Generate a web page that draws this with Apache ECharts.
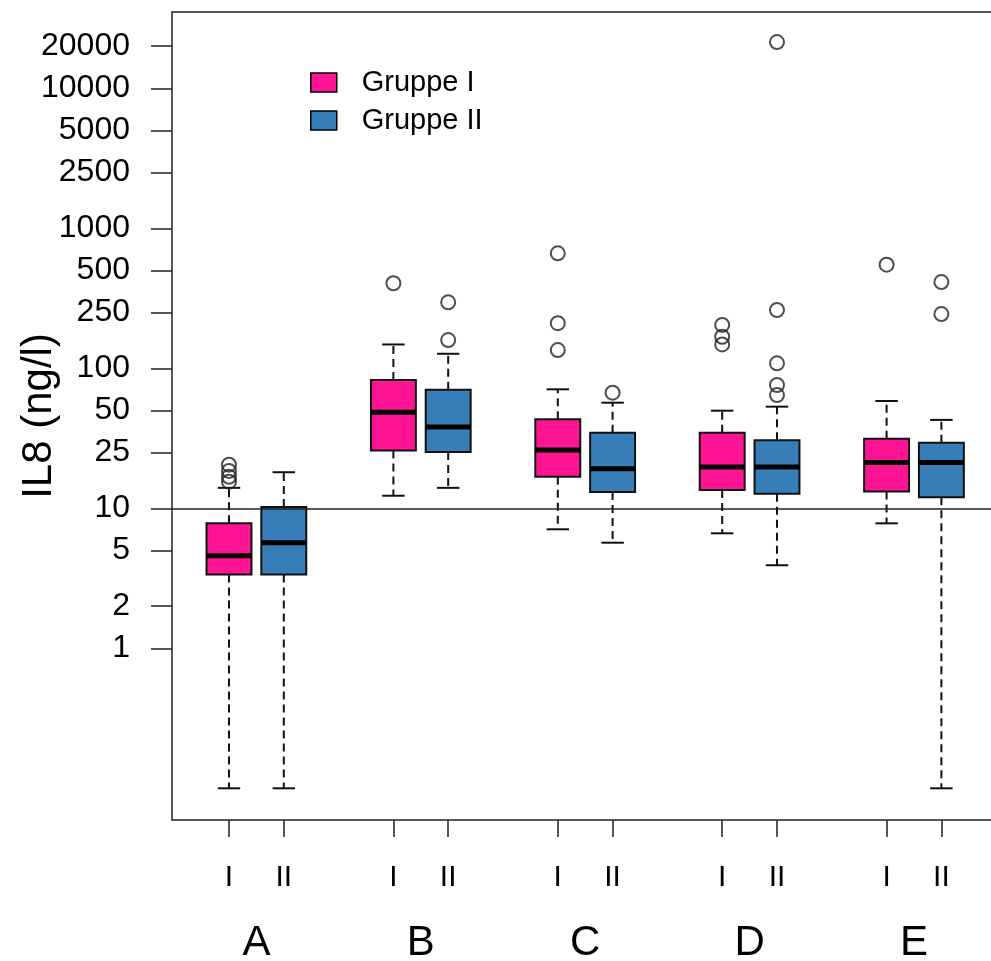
<!DOCTYPE html>
<html>
<head>
<meta charset="utf-8">
<script src="https://cdn.jsdelivr.net/npm/echarts@6/dist/echarts.min.js"></script>
<style>
  html, body { margin: 0; padding: 0; background: #fff; }
  #chart { width: 991px; height: 961px; }
</style>
</head>
<body>
<div id="chart"></div>
<script>
// Gruppen und Untergruppen
const groups = ['A', 'B', 'C', 'D', 'E'];
const subLabels = ['I', 'II'];
const seriesNames = ['Gruppe I', 'Gruppe II'];
const yTicks = [1, 2, 5, 10, 25, 50, 100, 250, 500, 1000, 2500, 5000, 10000, 20000];
const refLine = 10;

// [min, Q1, Median, Q3, max] in ng/l
const gruppeI = [
  [0.1, 3.36, 4.59, 7.81, 14.0],
  [12.3, 25.9, 48.5, 82.4, 148],
  [7.08, 16.8, 26.1, 43.2, 70.8],
  [6.63, 13.5, 19.7, 34.7, 49.8],
  [7.81, 13.2, 21.2, 31.4, 58.4]
];
const gruppeII = [
  [0.1, 3.36, 5.68, 10.2, 18.1],
  [14.0, 25.2, 38.1, 70.3, 127],
  [5.68, 13.1, 19.2, 34.7, 56.8],
  [3.92, 12.7, 19.7, 30.6, 53.2],
  [0.1, 12.0, 21.2, 29.4, 42.8]
];
// Ausreisser
const outliersI = [[20.5, 18.5, 16.8, 15.5], [405], [663, 210, 135], [204, 168, 148], [550]];
const outliersII = [[], [296, 159], [67], [21400, 261, 108.6, 76, 64.4], [413, 244]];

const colors = ['#FF1493', '#377EB8'];
const FONT = '"Liberation Sans", Arial, sans-serif';
const lg = Math.log10;

// box position on the x axis: pairs with a gap between groups
const xPos = (g, s) => g * 3 + 1 + s;

const boxData = [gruppeI, gruppeII].map((arr, s) =>
  arr.map((st, g) => [xPos(g, s)].concat(st.map(lg)))
);
const outlierData = [];
[outliersI, outliersII].forEach((arr, s) => {
  arr.forEach((vals, g) => vals.forEach(v => outlierData.push([xPos(g, s), lg(v)])));
});

const tickPos = [];
groups.forEach((g, gi) => subLabels.forEach((_, si) => tickPos.push(xPos(gi, si))));
const groupPos = groups.map((g, gi) => xPos(gi, 0) + 0.5);

function renderBox(params, api) {
  const x = api.value(0);
  const lo = api.coord([x, api.value(1)]);
  const q1 = api.coord([x, api.value(2)]);
  const med = api.coord([x, api.value(3)]);
  const q3 = api.coord([x, api.value(4)]);
  const hi = api.coord([x, api.value(5)]);
  const w = api.size([0.82, 0])[0];
  const cx = lo[0], half = w / 2, cap = w / 4;
  const dash = { stroke: '#111', lineWidth: 2, lineDash: [8, 5] };
  const solid = { stroke: '#111', lineWidth: 2 };
  return {
    type: 'group',
    children: [
      { type: 'line', shape: { x1: cx, y1: q3[1], x2: cx, y2: hi[1] }, style: dash },
      { type: 'line', shape: { x1: cx, y1: q1[1], x2: cx, y2: lo[1] }, style: dash },
      { type: 'line', shape: { x1: cx - cap, y1: hi[1], x2: cx + cap, y2: hi[1] }, style: solid },
      { type: 'line', shape: { x1: cx - cap, y1: lo[1], x2: cx + cap, y2: lo[1] }, style: solid },
      { type: 'rect', shape: { x: cx - half, y: q3[1], width: w, height: q1[1] - q3[1] },
        style: { fill: api.visual('color'), stroke: '#111', lineWidth: 2 } },
      { type: 'line', shape: { x1: cx - half, y1: med[1], x2: cx + half, y2: med[1] },
        style: { stroke: '#000', lineWidth: 5 } }
    ]
  };
}

const myChart = echarts.init(document.getElementById('chart'), null, { renderer: 'canvas' });
myChart.setOption({
  backgroundColor: '#fff',
  animation: false,
  grid: {
    left: 172, right: -3, top: 12, bottom: 141,
    containLabel: false, outerBoundsMode: 'none',
    show: true, borderColor: '#222', borderWidth: 1.5, backgroundColor: 'transparent'
  },
  legend: {
    orient: 'vertical',
    left: 310, top: 68, padding: 0,
    itemWidth: 26, itemHeight: 19, itemGap: 9,
    textStyle: { fontSize: 29, fontFamily: FONT, color: '#000', lineHeight: 19, padding: [0, 0, 0, 20] },
    data: seriesNames.map((n, i) => ({
      name: n, icon: 'rect',
      itemStyle: { color: colors[i], borderColor: '#000', borderWidth: 1.5 }
    }))
  },
  xAxis: [
    {
      type: 'value', min: -0.04, max: 14.96, position: 'bottom',
      axisLine: { show: false, onZero: false },
      splitLine: { show: false },
      axisTick: { show: true, customValues: tickPos, length: 17, lineStyle: { color: '#222', width: 1.5 } },
      axisLabel: {
        customValues: tickPos, margin: 43, fontSize: 30, fontFamily: FONT, color: '#000',
        formatter: v => subLabels[(Math.round(v) - 1) % 3]
      }
    },
    {
      type: 'value', min: -0.04, max: 14.96, position: 'bottom',
      axisLine: { show: false, onZero: false },
      splitLine: { show: false },
      axisTick: { show: false },
      axisLabel: {
        customValues: groupPos, margin: 102, fontSize: 42, fontFamily: FONT, color: '#000',
        formatter: v => groups[Math.floor(v / 3)]
      }
    }
  ],
  yAxis: {
    type: 'value',
    min: -1.2264, max: 4.545,
    name: 'IL8 (ng/l)', nameLocation: 'middle', nameGap: 112, nameRotate: 90,
    nameMoveOverlap: false,
    nameTextStyle: { fontSize: 42, fontFamily: FONT, color: '#000' },
    axisLine: { show: false, onZero: false },
    splitLine: { show: false },
    axisTick: { show: true, customValues: yTicks.map(lg), length: 21, lineStyle: { color: '#222', width: 1.5 } },
    axisLabel: {
      customValues: yTicks.map(lg), margin: 42, fontSize: 32, fontFamily: FONT, color: '#000',
      formatter: v => {
        let best = yTicks[0];
        yTicks.forEach(t => { if (Math.abs(lg(t) - v) < Math.abs(lg(best) - v)) best = t; });
        return String(best);
      }
    }
  },
  series: [
    {
      name: seriesNames[0], type: 'custom', renderItem: renderBox,
      itemStyle: { color: colors[0] },
      encode: { x: 0, y: [1, 2, 3, 4, 5] },
      data: boxData[0], z: 3
    },
    {
      name: seriesNames[1], type: 'custom', renderItem: renderBox,
      itemStyle: { color: colors[1] },
      encode: { x: 0, y: [1, 2, 3, 4, 5] },
      data: boxData[1], z: 3
    },
    {
      name: 'Ausreisser', type: 'scatter',
      symbol: 'circle', symbolSize: 14,
      itemStyle: { color: 'rgba(0,0,0,0)', borderColor: '#222', borderWidth: 2 },
      data: outlierData, z: 4,
      markLine: {
        silent: true, symbol: 'none', animation: false,
        label: { show: false },
        lineStyle: { color: '#222', width: 1.5, type: 'solid' },
        data: [{ yAxis: lg(refLine) }]
      }
    }
  ]
});
</script>
</body>
</html>
